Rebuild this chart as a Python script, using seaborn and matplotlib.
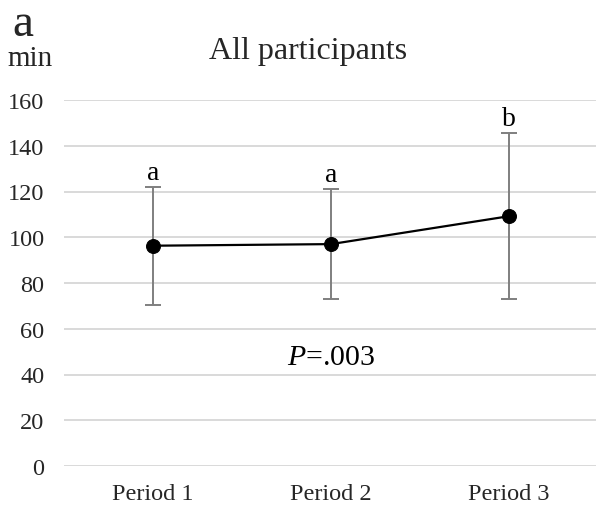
import matplotlib
matplotlib.use("Agg")
import matplotlib.pyplot as plt
import seaborn as sns
import pandas as pd
import numpy as np

periods = ["Period 1", "Period 2", "Period 3"]
means = [96.3, 97.0, 109.2]
sd = [25.8, 24.1, 36.3]
letters = ["a", "a", "b"]
yticks = [0, 20, 40, 60, 80, 100, 120, 140, 160]
p_text = "=.003"

sns.set_theme(style="white")
plt.rcParams['font.family'] = ['Liberation Serif', 'DejaVu Serif']
plt.rcParams['mathtext.fontset'] = 'custom'
plt.rcParams['mathtext.it'] = 'Liberation Serif:italic'
plt.rcParams['mathtext.rm'] = 'Liberation Serif'

df = pd.DataFrame({"x": np.arange(len(periods)), "mean": means, "sd": sd})

fig = plt.figure(figsize=(5.96, 5.06), dpi=100)
ax = fig.add_axes([64/596, 39/506, 534/596, 366/506])

for y in yticks:
    ax.axhline(y, color="#d9d9d9", lw=1.4, zorder=0)

ax.errorbar(df["x"], df["mean"], yerr=df["sd"], fmt="none", ecolor="#7f7f7f",
            elinewidth=1.4, capsize=6, capthick=1.4, zorder=2)
sns.lineplot(data=df, x="x", y="mean", ax=ax, color="black", lw=1.6,
             marker="o", markersize=10, markeredgecolor="black",
             markerfacecolor="black", zorder=3)

for xi, (m, s, lab) in enumerate(zip(means, sd, letters)):
    ax.text(xi, m + s + 3.5, lab, ha="center", va="baseline", fontsize=20, color="black")

ax.text(1, 44.6, "$\\mathit{P}$" + p_text, ha="center", va="baseline", fontsize=21.5, color="black")

ax.set_xlim(-0.5, 2.5)
ax.set_ylim(0, 160)
ax.set_yticks(yticks)
ax.set_xticks(df["x"])
ax.set_xticklabels(periods)
ax.set_xlabel("")
ax.set_ylabel("")
for sp in ax.spines.values():
    sp.set_visible(False)
ax.tick_params(axis="y", length=0, pad=14, labelsize=17.5)
ax.tick_params(axis="x", length=0, pad=12, labelsize=17.5)

fig.text(308/596, 1 - 59/506, "All participants", ha="center", va="baseline", fontsize=23)
fig.text(12/596, 1 - 36/506, "a", ha="left", va="baseline", fontsize=34)
fig.text(7/596, 1 - 66/506, "min", ha="left", va="baseline", fontsize=21)

fig.savefig("out.png", dpi=100)
